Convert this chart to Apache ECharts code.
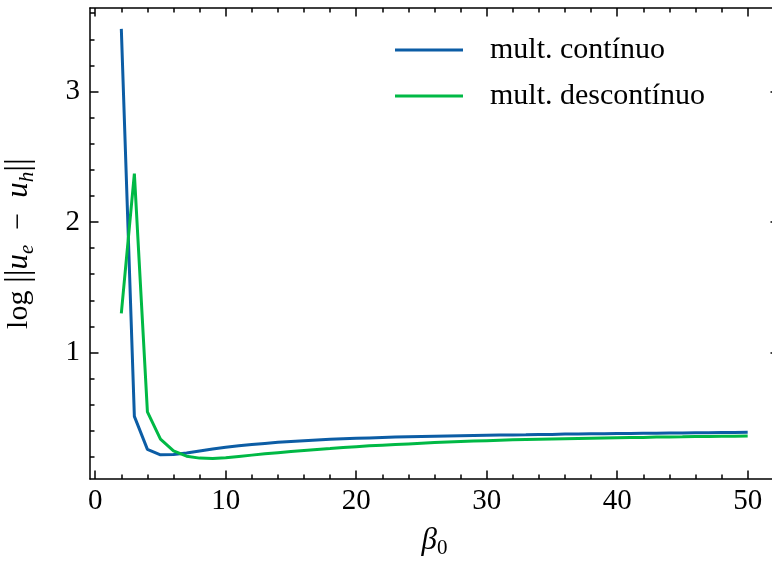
<!DOCTYPE html>
<html>
<head>
<meta charset="utf-8">
<script src="https://cdn.jsdelivr.net/npm/echarts@6/dist/echarts.min.js"></script>
<style>
  html, body { margin: 0; padding: 0; background: #ffffff; }
  #chart { width: 772px; height: 561px; }
</style>
</head>
<body>
<div id="chart"></div>
<script>
// beta_0 values and error norms for the two multiplier spaces
const beta0 = [2, 3, 4, 5, 6, 7, 8, 9, 10, 11, 12, 13, 14, 15, 16, 17, 18, 19, 20, 21, 22, 23, 24, 25, 26,
               27, 28, 29, 30, 31, 32, 33, 34, 35, 36, 37, 38, 39, 40, 41, 42, 43, 44, 45, 46, 47, 48, 49, 50];

const multContinuo = [3.48, 0.51, 0.257, 0.215, 0.217, 0.23, 0.245, 0.26, 0.273, 0.284, 0.294, 0.303, 0.311,
                      0.318, 0.324, 0.329, 0.334, 0.338, 0.342, 0.345, 0.348, 0.351, 0.353, 0.355, 0.357,
                      0.359, 0.361, 0.363, 0.365, 0.367, 0.368, 0.369, 0.371, 0.372, 0.374, 0.375, 0.376,
                      0.377, 0.378, 0.379, 0.380, 0.381, 0.382, 0.383, 0.384, 0.385, 0.386, 0.387, 0.388];

const multDescontinuo = [1.30, 2.37, 0.545, 0.335, 0.245, 0.205, 0.19, 0.188, 0.193, 0.203, 0.213, 0.223,
                         0.232, 0.241, 0.249, 0.257, 0.264, 0.272, 0.278, 0.284, 0.289, 0.294, 0.299, 0.304,
                         0.309, 0.314, 0.318, 0.321, 0.324, 0.327, 0.330, 0.332, 0.334, 0.336, 0.338, 0.340,
                         0.342, 0.344, 0.346, 0.348, 0.349, 0.351, 0.352, 0.353, 0.355, 0.356, 0.357, 0.358, 0.359];

// tick positions
const xMajorTicks = [0, 10, 20, 30, 40, 50];
const xMinorTicks = [2, 4, 6, 8, 12, 14, 16, 18, 22, 24, 26, 28, 32, 34, 36, 38, 42, 44, 46, 48, 52];
const yMajorTicks = [1, 2, 3];
const yMinorTicks = [0.2, 0.4, 0.6, 0.8, 1.2, 1.4, 1.6, 1.8, 2.2, 2.4, 2.6, 2.8, 3.2, 3.4, 3.6];

const X_MIN = -0.4, X_MAX = 52.4;
const Y_MIN = 0.03, Y_MAX = 3.64;

const FONT = '"Liberation Serif", "Times New Roman", serif';
const INK = '#000000';
const BLUE = '#0C5DA5';
const GREEN = '#00B945';

function xAxisDef(position, ticks, len, withLine, withLabels) {
  return {
    type: 'value', position: position, min: X_MIN, max: X_MAX,
    axisLine: { show: withLine, onZero: false, lineStyle: { color: INK, width: 1.5 } },
    axisTick: { show: true, inside: true, length: len, customValues: ticks, lineStyle: { color: INK, width: 1.5 } },
    axisLabel: withLabels
      ? { show: true, customValues: ticks, margin: 8, color: INK, fontFamily: FONT, fontSize: 29 }
      : { show: false },
    splitLine: { show: false }
  };
}

function yAxisDef(position, ticks, len, withLine, withLabels) {
  return {
    type: 'value', position: position, min: Y_MIN, max: Y_MAX,
    axisLine: { show: withLine, onZero: false, lineStyle: { color: INK, width: 1.5 } },
    axisTick: { show: true, inside: true, length: len, customValues: ticks, lineStyle: { color: INK, width: 1.5 } },
    axisLabel: withLabels
      ? { show: true, customValues: ticks, margin: 10, color: INK, fontFamily: FONT, fontSize: 29 }
      : { show: false },
    splitLine: { show: false }
  };
}

const xBottom = xAxisDef('bottom', xMajorTicks, 8.5, true, true);
xBottom.name = '{it|β}{sub|0}';
xBottom.nameLocation = 'middle';
xBottom.nameGap = 44;
xBottom.nameTextStyle = {
  color: INK, fontFamily: FONT, fontSize: 30,
  rich: {
    it: { fontFamily: FONT, fontStyle: 'italic', fontSize: 31, color: INK, lineHeight: 36 },
    sub: { fontFamily: FONT, fontSize: 21, color: INK, verticalAlign: 'bottom' }
  }
};

const yLeft = yAxisDef('left', yMajorTicks, 8.5, true, true);
yLeft.name = '{t|log }{bar|||}{it|u}{sub|e}{t|  −  }{it|u}{sub|h}{bar|||}';
yLeft.nameLocation = 'middle';
yLeft.nameRotate = 90;
yLeft.nameGap = 52;
yLeft.nameTextStyle = {
  color: INK, fontFamily: FONT, fontSize: 30, lineHeight: 38,
  rich: {
    t: { fontFamily: FONT, fontSize: 30, color: INK, lineHeight: 38 },
    bar: { fontFamily: FONT, fontSize: 34, color: INK, lineHeight: 38 },
    it: { fontFamily: FONT, fontStyle: 'italic', fontSize: 31, color: INK, lineHeight: 38 },
    sub: { fontFamily: FONT, fontStyle: 'italic', fontSize: 21, color: INK, verticalAlign: 'bottom' }
  }
};

const chart = echarts.init(document.getElementById('chart'), null, { renderer: 'canvas' });

chart.setOption({
  animation: false,
  backgroundColor: '#ffffff',
  grid: { left: 90, right: -7, top: 8, bottom: 82, containLabel: false, outerBoundsMode: 'none' },
  legend: {
    orient: 'vertical',
    left: 395, top: 35, padding: 0,
    icon: 'rect',
    itemWidth: 68, itemHeight: 3, itemGap: 16,
    textStyle: { color: INK, fontFamily: FONT, fontSize: 30, lineHeight: 30, padding: [0, 0, 0, 22] },
    data: ['mult. contínuo', 'mult. descontínuo']
  },
  xAxis: [
    xBottom,
    xAxisDef('bottom', xMinorTicks, 4.5, false, false),
    xAxisDef('top', xMajorTicks, 8.5, true, false),
    xAxisDef('top', xMinorTicks, 4.5, false, false)
  ],
  yAxis: [
    yLeft,
    yAxisDef('left', yMinorTicks, 4.5, false, false),
    yAxisDef('right', yMajorTicks, 8.5, true, false),
    yAxisDef('right', yMinorTicks, 4.5, false, false)
  ],
  series: [
    {
      name: 'mult. contínuo', type: 'line', xAxisIndex: 0, yAxisIndex: 0,
      data: beta0.map((b, i) => [b, multContinuo[i]]),
      symbol: 'none', showSymbol: false,
      lineStyle: { color: BLUE, width: 3 }, itemStyle: { color: BLUE }
    },
    {
      name: 'mult. descontínuo', type: 'line', xAxisIndex: 0, yAxisIndex: 0,
      data: beta0.map((b, i) => [b, multDescontinuo[i]]),
      symbol: 'none', showSymbol: false,
      lineStyle: { color: GREEN, width: 3 }, itemStyle: { color: GREEN }
    }
  ]
});
</script>
</body>
</html>
